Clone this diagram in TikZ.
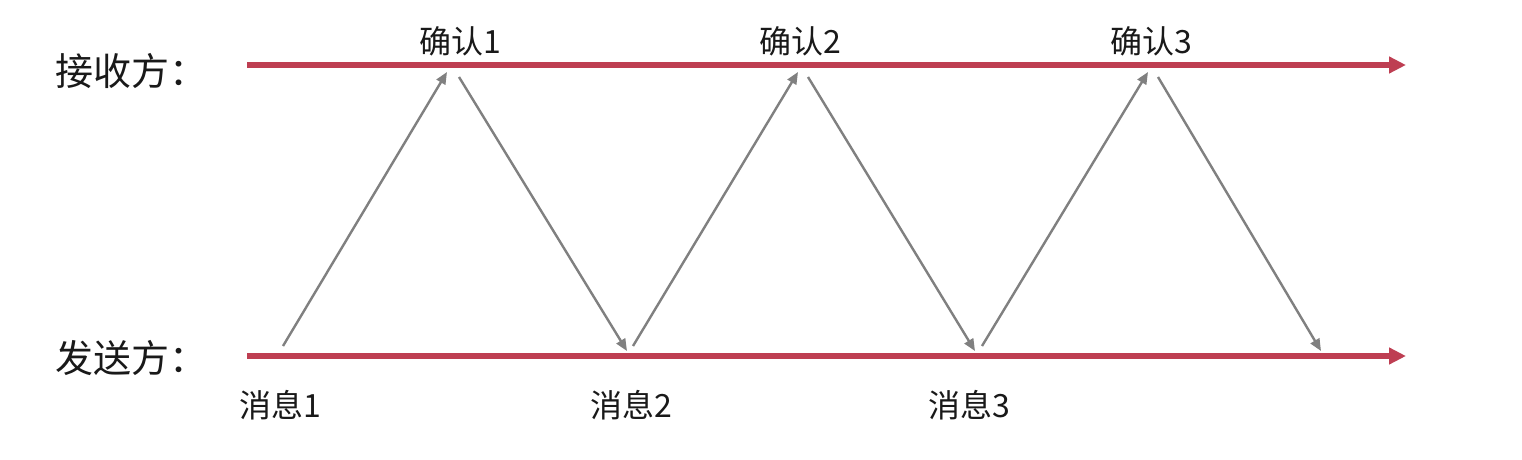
\documentclass[tikz,border=0pt]{standalone}
\usepackage{fontspec}
\newfontfamily\cjk{Noto Sans CJK SC}
\usetikzlibrary{arrows.meta}
\definecolor{axisred}{RGB}{190,62,82}
\definecolor{arrgray}{RGB}{128,128,128}
\definecolor{txt}{RGB}{25,25,25}
\begin{document}
\begin{tikzpicture}[x=1pt,y=-1pt,
  axis/.style={draw=axisred,line width=5.5pt,-{Triangle[length=17pt,width=16pt]}},
  msg/.style={draw=arrgray,line width=2.4pt,-{Triangle[length=12pt,width=10pt]}},
  lbl/.style={font=\cjk\fontsize{32}{36}\selectfont,text=txt,inner sep=0pt},
  side/.style={font=\cjk\fontsize{38}{42}\selectfont,text=txt,inner sep=0pt}]
\useasboundingbox (0,0) rectangle (1522,460);
\fill[white] (0,0) rectangle (1522,460);
% axes
\coordinate (rs) at (247,65); \coordinate (re) at (1406,65);
\coordinate (ss) at (247,356); \coordinate (se) at (1406,356);
\draw[axis] (rs) -- (re);
\draw[axis] (ss) -- (se);
\node[side,anchor=west] (recv) at (55,71) {接收方：};
\node[side,anchor=west] (send) at (55,358) {发送方：};
% arrow endpoints
\coordinate (a1s) at (283,346); \coordinate (a1e) at (447,72);
\coordinate (a2s) at (459,77);  \coordinate (a2e) at (627,351);
\coordinate (a3s) at (633,346); \coordinate (a3e) at (798,72);
\coordinate (a4s) at (808,77);  \coordinate (a4e) at (975,351);
\coordinate (a5s) at (982,346); \coordinate (a5e) at (1148,72);
\coordinate (a6s) at (1158,77); \coordinate (a6e) at (1321,351);
\draw[msg] (a1s) -- (a1e);
\draw[msg] (a2s) -- (a2e);
\draw[msg] (a3s) -- (a3e);
\draw[msg] (a4s) -- (a4e);
\draw[msg] (a5s) -- (a5e);
\draw[msg] (a6s) -- (a6e);
% labels
\node[lbl] (c1) at (460,41) {确认1};
\node[lbl] (c2) at (800,41) {确认2};
\node[lbl] (c3) at (1151,41) {确认3};
\node[lbl] (m1) at (280,405) {消息1};
\node[lbl] (m2) at (631,405) {消息2};
\node[lbl] (m3) at (969,405) {消息3};
\end{tikzpicture}
\end{document}
